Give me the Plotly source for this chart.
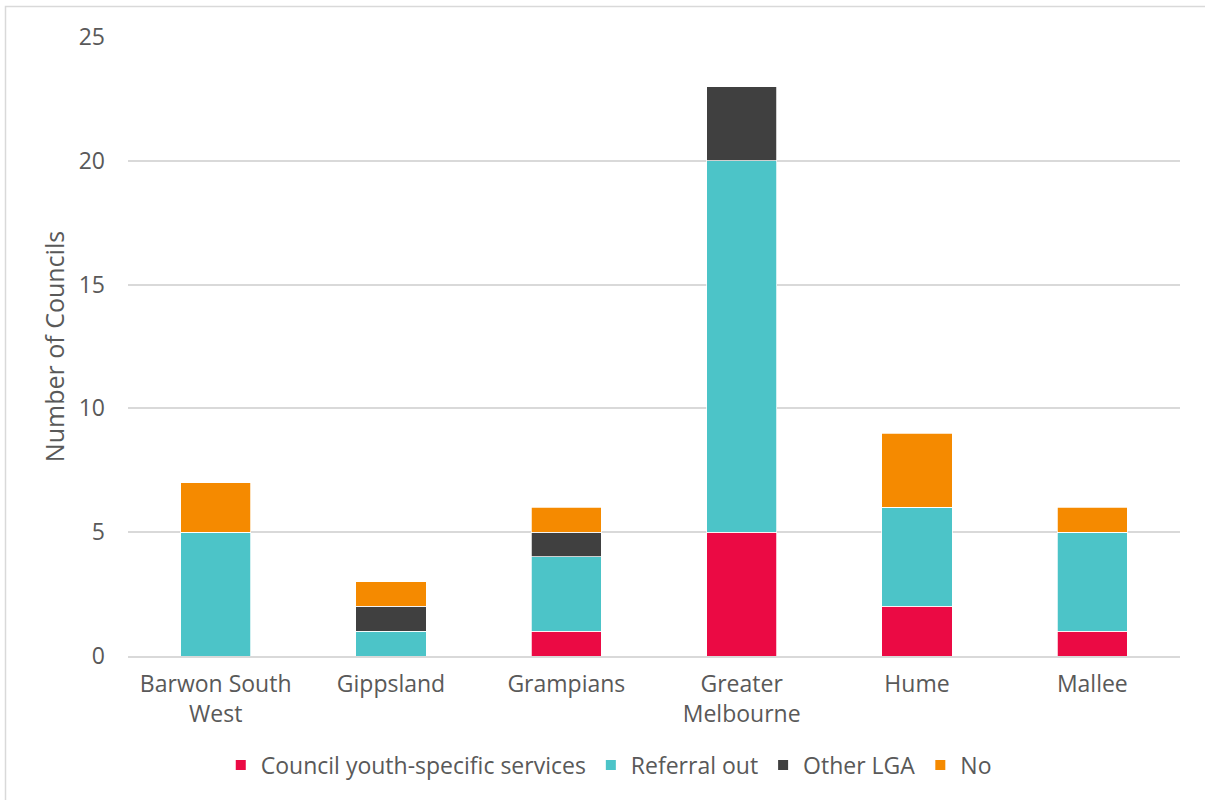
import plotly.graph_objects as go

regions = ["Barwon South<br>West", "Gippsland", "Grampians", "Greater<br>Melbourne", "Hume", "Mallee"]
council_youth = [0, 0, 1, 5, 2, 1]
referral_out = [5, 1, 3, 15, 4, 4]
other_lga = [0, 1, 1, 3, 0, 0]
no_service = [2, 1, 1, 0, 3, 1]

series = [
    ("Council youth-specific services", council_youth, "#EB0A44"),
    ("Referral out", referral_out, "#4CC4C8"),
    ("Other LGA", other_lga, "#404040"),
    ("No", no_service, "#F58A00"),
]

font_family = "'Open Sans', sans-serif"
fig = go.Figure()
for name, vals, color in series:
    fig.add_trace(go.Bar(
        x=regions, y=vals, name=name,
        marker=dict(color=color, line=dict(color="white", width=0.75)),
    ))

fig.update_layout(
    barmode="stack",
    bargap=0.6,
    width=1205, height=800,
    margin=dict(l=128, r=25, t=37, b=144),
    paper_bgcolor="white", plot_bgcolor="white",
    font=dict(family=font_family, color="#595959", size=22),
    showlegend=True,
    legend=dict(orientation="h", x=0.457, xanchor="center", y=-0.176, yanchor="middle",
                font=dict(size=23, color="#595959"), traceorder="normal",
                itemwidth=30, itemsizing="constant"),
    xaxis=dict(showgrid=False, showline=True, linecolor="#D9D9D9", linewidth=1.5,
               ticks="", ticklabelstandoff=7, tickfont=dict(size=23, color="#595959")),
    yaxis=dict(range=[0, 25], dtick=5, showgrid=True, gridcolor="#D9D9D9", gridwidth=1.5,
               zeroline=False, showline=False, ticks="", ticklabelstandoff=22,
               tickfont=dict(size=23, color="#595959"),
               title=dict(text="Number of Councils", font=dict(size=25, color="#595959"), standoff=6)),
    shapes=[dict(type="rect", xref="paper", yref="paper",
                 x0=-122.5/1052, x1=1.05, y0=-0.3, y1=1 + 30.5/619,
                 line=dict(color="#D9D9D9", width=1.5), fillcolor="rgba(0,0,0,0)", layer="below")],
)

fig.write_html("out.html", config={"displayModeBar": False},
               post_script="document.body.style.margin='0px';")
